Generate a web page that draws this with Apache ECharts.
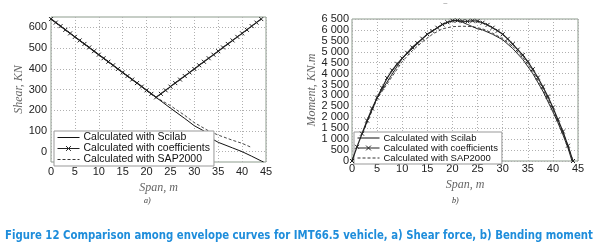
<!DOCTYPE html>
<html><head><meta charset="utf-8">
<script src="https://cdn.jsdelivr.net/npm/echarts@6/dist/echarts.min.js"></script>
<style>html,body{margin:0;padding:0;background:#fff}#c{width:594px;height:249px}</style>
</head><body><div id="c"></div>
<script>
// ---- Data: a) Shear force ----
const shearCoeffX = [0,1,2,3,4,5,6,7,8,9,10,11,12,13,14,15,16,17,18,19,20,21,22,23,24,25,26,27,28,29,30,31,32,33,34,35,36,37,38,39,40,41,42,43,44];
const shearCoeff  = [640,623,606,588,571,554,537,520,503,485,468,451,434,417,399,382,365,348,331,314,296,279,262,279,296,314,331,348,365,382,399,417,434,451,468,485,503,520,537,554,571,588,606,623,640];
const shearScilabX = [0,22,25,28,30,32,33,34,35,38,40,42,44,44.5];
const shearScilab  = [640,262,210,160,125,100,78,58,45,18,0,-22,-45,-50];
const shearSapX = [0,22,25,28,30,33,35,38,40,42];
const shearSap  = [640,262,222,175,140,100,80,55,40,20];
const shearTicks = [0,100,200,300,400,500,600];
// ---- Data: b) Bending moment ----
const momCoeffX = [0,1,2,3,4,5,6,7,8,9,10,11,12,13,14,15,16,17,18,19,20,21,22,23,24,25,26,27,28,29,30,31,32,33,34,35,36,37,38,39,40,41,42,43,44];
const momCoeff  = [0,650,1250,1850,2400,2900,3350,3800,4150,4450,4700,4950,5200,5400,5600,5800,5950,6100,6250,6350,6420,6430,6400,6390,6420,6400,6330,6230,6100,5960,5800,5590,5350,5100,4850,4550,4200,3820,3400,2950,2450,1900,1350,700,0];
const momScilabX = [0,2,5,10,15,18,20,21,22,23,24,25,26,28,30,32,34,36,38,40,41,42,43,43.8];
const momScilab  = [0,1250,2900,4700,5800,6250,6420,6420,6350,6250,6150,6050,6000,5800,5550,5150,4650,4000,3200,2250,1750,1200,600,0];
const momSapX = [0,2,5,10,12,14,16,18,20,22,24,25,26,28,30,32,34,36,38,40,42,43,44];
const momSap  = [0,1200,2850,4550,5050,5450,5800,6050,6150,6170,6150,6100,6050,5850,5600,5250,4750,4100,3300,2350,1300,700,0];
const names = ['Calculated with Scilab','Calculated with coefficients','Calculated with SAP2000'];

const zip = (xs, ys) => xs.map((x,i)=>[x, ys[i]]);
const chart = echarts.init(document.getElementById('c'));
const gridBorder = '#8d9c8d';
const split = {show:true, lineStyle:{color:'#b0b0b0', type:[1,2], width:1}};
const tickLbl = {fontFamily:'Liberation Sans, Arial', fontSize:11, color:'#222'};
const nameStyle = {fontFamily:'Liberation Serif', fontStyle:'italic', fontSize:12, color:'#666'};
const xMark = 'path://M0,0L10,10M10,0L0,10';
function mkSeries(idx, sx, sy, cx, cy, px, py, w) {
  return [
    {name:names[0], type:'line', xAxisIndex:idx, yAxisIndex:idx, data:zip(sx,sy), symbol:'none',
     itemStyle:{color:'#111'}, lineStyle:{color:'#111', width:w}, silent:true, z:3},
    {name:names[1], type:'line', xAxisIndex:idx, yAxisIndex:idx, data:zip(cx,cy), symbol:xMark, symbolSize:4,
     itemStyle:{color:'transparent', borderColor:'#222', borderWidth:1}, lineStyle:{color:'#222', width:1.2}, silent:true, z:4},
    {name:names[2], type:'line', xAxisIndex:idx, yAxisIndex:idx, data:zip(px,py), symbol:'none',
     itemStyle:{color:'#333'}, lineStyle:{color:'#333', width:0.9, type:[3,2]}, silent:true, z:2}
  ];
}
const fmtSpace = v => { const s = String(Math.round(v)); return s.length > 3 ? s.slice(0, s.length-3) + ' ' + s.slice(-3) : s; };
function legendData() {
  return [
    {name:names[0], itemStyle:{color:'transparent', borderColor:'transparent', borderWidth:0}},
    {name:names[1], itemStyle:{color:'transparent', borderColor:'#222', borderWidth:1}},
    {name:names[2], itemStyle:{color:'transparent', borderColor:'transparent', borderWidth:0}}
  ];
}
chart.setOption({
  animation:false,
  grid:[
    {left:51, top:17, width:215, height:145, show:true, borderColor:gridBorder, borderWidth:1, containLabel:false},
    {left:352, top:19, width:226, height:142, show:true, borderColor:gridBorder, borderWidth:1, containLabel:false}
  ],
  xAxis:[
    {type:'value', gridIndex:0, min:0, max:45, interval:5, axisLine:{show:false}, axisTick:{show:false},
     axisLabel:Object.assign({margin:4}, tickLbl), splitLine:split,
     name:'Span, m', nameLocation:'middle', nameGap:16, nameTextStyle:nameStyle},
    {type:'value', gridIndex:1, min:0, max:45, interval:5, axisLine:{show:false}, axisTick:{show:false},
     axisLabel:Object.assign({margin:2}, tickLbl), splitLine:split,
     name:'Span, m', nameLocation:'middle', nameGap:10, nameTextStyle:nameStyle}
  ],
  yAxis:[
    {type:'value', gridIndex:0, min:-50, max:650, axisLine:{show:false}, axisTick:{show:false, customValues:shearTicks},
     axisLabel:Object.assign({margin:4, customValues:shearTicks}, tickLbl), splitLine:split,
     name:'Shear, KN', nameLocation:'middle', nameGap:24, nameTextStyle:nameStyle},
    {type:'value', gridIndex:1, min:0, max:6500, interval:500, axisLine:{show:false}, axisTick:{show:false},
     axisLabel:Object.assign({margin:3, formatter: fmtSpace}, tickLbl), splitLine:split,
     name:'Moment, KN.m', nameLocation:'middle', nameGap:32, nameTextStyle:nameStyle}
  ],
  legend:[
    {left:54, top:131, orient:'vertical', data:legendData(), itemWidth:22, itemHeight:6, itemGap:0,
     lineStyle:{width:1},
     backgroundColor:'#fff', borderColor:'#999', borderWidth:1, padding:[1,4,1,3], borderRadius:0,
     textStyle:{fontFamily:'Liberation Sans, Arial', fontSize:10.5, lineHeight:9.5, color:'#111', padding:[0,0,0,-1]}},
    {left:354, top:132, orient:'vertical', data:legendData(), itemWidth:22, itemHeight:6, itemGap:0,
     lineStyle:{width:1},
     backgroundColor:'#fff', borderColor:'#999', borderWidth:1, padding:[1,4,1,3], borderRadius:0,
     textStyle:{fontFamily:'Liberation Sans, Arial', fontSize:9.5, lineHeight:8.5, color:'#111', padding:[0,0,0,-1]}}
  ],
  graphic:[
    {type:'text', left:144, top:197, style:{text:'a)', font:'italic 8px Liberation Serif', fill:'#333'}},
    {type:'text', left:452, top:197, style:{text:'b)', font:'italic 8px Liberation Serif', fill:'#333'}},
    {type:'text', left:443, top:0, style:{text:'~', font:'8px Liberation Sans', fill:'#888'}},
    {type:'text', x:5, y:229, scaleX:0.868, style:{text:'Figure 12 Comparison among envelope curves for IMT66.5 vehicle, a) Shear force, b) Bending moment',
      font:'bold 13px "DejaVu Sans Condensed", sans-serif', fill:'#1e8ddb'}}
  ],
  series:[].concat(
    mkSeries(0, shearScilabX, shearScilab, shearCoeffX, shearCoeff, shearSapX, shearSap, 1),
    mkSeries(1, momScilabX, momScilab, momCoeffX, momCoeff, momSapX, momSap, 0.9)
  )
});
</script></body></html>
